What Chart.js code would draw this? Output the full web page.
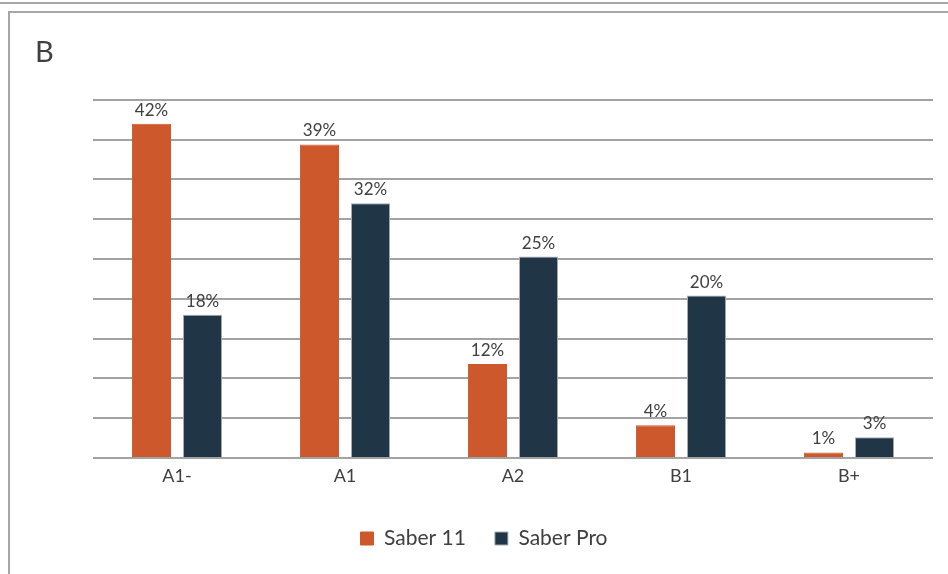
<!DOCTYPE html>
<html>
<head>
<meta charset="utf-8">
<script src="https://cdn.jsdelivr.net/npm/chart.js@4/dist/chart.umd.min.js"></script>
<style>
  body { margin: 0; background: #fff; }
  #wrap { position: relative; width: 948px; height: 574px; overflow: hidden; }
  #barChart { position: absolute; left: 0; top: 0; }
  .line { position: absolute; background: #a6a6a6; }
</style>
</head>
<body>
<div id="wrap">
  <canvas id="barChart" width="948" height="574"></canvas>
  <div class="line" style="left:0; top:2px; width:948px; height:2px;"></div>
  <div class="line" style="left:8px; top:11px; width:940px; height:2px;"></div>
  <div class="line" style="left:8px; top:11px; width:2px; height:563px;"></div>
</div>
<script>
var levels = ["A1-", "A1", "A2", "B1", "B+"];
var saber11 = [42, 39.4, 11.8, 4.1, 0.7];
var saberPro = [18, 32, 25.3, 20.4, 2.6];
var yTicks = [0, 5, 10, 15, 20, 25, 30, 35, 40, 45];

var textColor = "#404040";

// labels above the bars
var barLabels = {
    id: 'barLabels',
    afterDatasetsDraw: function (chart) {
        var ctx = chart.ctx;
        ctx.save();
        ctx.font = '17px Lato';
        ctx.fillStyle = textColor;
        ctx.textAlign = 'center';
        ctx.textBaseline = 'alphabetic';
        chart.data.datasets.forEach(function (ds, i) {
            chart.getDatasetMeta(i).data.forEach(function (bar, j) {
                ctx.fillText(Math.round(ds.data[j]) + '%', bar.x, bar.y - 8);
            });
        });
        ctx.restore();
    }
};

var ctx = document.getElementById("barChart").getContext('2d');
var myBarChart = new Chart(ctx, {
    type: 'bar',
    data: {
        labels: levels,
        datasets: [
            {
                label: "Saber 11",
                data: saber11,
                backgroundColor: "#CD582B",
                borderColor: "#CD582B",
                borderWidth: 1,
                barPercentage: 0.765,
                categoryPercentage: 0.608
            },
            {
                label: "Saber Pro",
                data: saberPro,
                backgroundColor: "#203545",
                borderColor: "#a3acb3",
                borderWidth: 1,
                barPercentage: 0.765,
                categoryPercentage: 0.608
            }
        ]
    },
    options: {
        responsive: false,
        animation: false,
        layout: { padding: { left: 35, right: 15, top: 0, bottom: 15 } },
        plugins: {
            title: {
                display: true,
                text: "B",
                align: 'start',
                color: textColor,
                font: { family: 'Lato', size: 29, weight: 'normal' },
                padding: { top: 35, bottom: 30 }
            },
            legend: {
                position: 'bottom',
                labels: {
                    boxWidth: 13,
                    boxHeight: 13,
                    padding: 29,
                    color: textColor,
                    font: { family: 'Lato', size: 21 }
                }
            },
            tooltip: { enabled: false }
        },
        scales: {
            x: {
                grid: { display: false, drawTicks: false },
                border: { display: false },
                ticks: { color: textColor, font: { family: 'Lato', size: 18 }, padding: 7 },
                afterFit: function (scale) { scale.height = 41; }
            },
            y: {
                min: yTicks[0],
                max: yTicks[yTicks.length - 1],
                afterBuildTicks: function (scale) {
                    scale.ticks = yTicks.map(function (v) { return { value: v }; });
                },
                grid: { color: "#a3a3a3", lineWidth: 2, drawTicks: false },
                border: { display: false },
                ticks: { display: false },
                afterFit: function (scale) { scale.width = 58; }
            }
        }
    },
    plugins: [barLabels]
});
</script>
</body>
</html>
